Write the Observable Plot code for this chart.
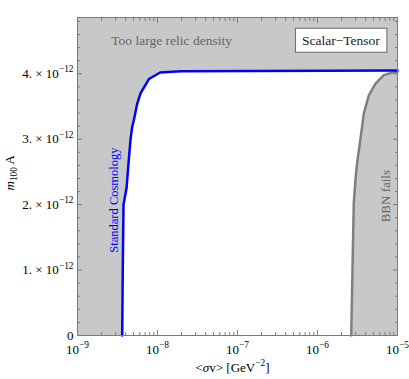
<!DOCTYPE html>
<html>
<head>
<meta charset="utf-8">
<script src="https://cdn.jsdelivr.net/npm/d3@7"></script>
<script src="https://cdn.jsdelivr.net/npm/@observablehq/plot@0.6"></script>
<style>
  html, body { margin: 0; padding: 0; background: white; }
  svg { display: block; }
</style>
</head>
<body>
<script>
// ---- data ----
const xMajor = [1e-9, 1e-8, 1e-7, 1e-6, 1e-5];
const xMinorMult = [2, 3, 4, 5, 6, 7, 8, 9];
const yMajor = [0, 1e-12, 2e-12, 3e-12, 4e-12];
const yMinor = [0.2e-12, 0.4e-12, 0.6e-12, 0.8e-12, 1.2e-12, 1.4e-12, 1.6e-12, 1.8e-12,
                2.2e-12, 2.4e-12, 2.6e-12, 2.8e-12, 3.2e-12, 3.4e-12, 3.6e-12, 3.8e-12,
                4.2e-12, 4.4e-12, 4.6e-12, 4.8e-12];
const xDomain = [1e-9, 1e-5];
const yDomain = [0, 4.86e-12];

// Standard Cosmology curve
const stdSigmaV = [3.62e-9, 3.68e-9, 3.76e-9, 4.1e-9, 4.3e-9, 4.6e-9, 4.83e-9, 5.06e-9, 5.57e-9, 6.13e-9, 7.8e-9, 1.08e-8, 1.94e-8, 1e-5];
const stdMass   = [0, 1.0e-12, 2.0e-12, 2.25e-12, 2.57e-12, 3.0e-12, 3.19e-12, 3.29e-12, 3.54e-12, 3.70e-12, 3.92e-12, 4.02e-12, 4.04e-12, 4.05e-12];

// BBN bound curve
const bbnSigmaV = [2.64e-6, 2.84e-6, 2.99e-6, 3.16e-6, 3.38e-6, 3.79e-6, 4.38e-6, 5.31e-6, 6.74e-6, 8.59e-6, 1e-5];
const bbnMass   = [0, 2.02e-12, 2.4e-12, 2.68e-12, 2.93e-12, 3.39e-12, 3.67e-12, 3.85e-12, 3.98e-12, 4.02e-12, 4.03e-12];

// annotations (text + anchor in data space)
const annoText = ["Too large relic density", "Scalar−Tensor", "Standard Cosmology", "BBN fails"];
const annoX = [1.5e-8, 1.96e-6, 2.84e-9, 7.2e-6];
const annoY = [4.51e-12, 4.51e-12, 2.07e-12, 2.13e-12];

const xLabel = "<*{σ}v> [GeV^{−2}]";
const yLabel = "*{m}_{100} A";

// ---- build ----
const std = stdSigmaV.map((x, i) => ({x, y: stdMass[i]}));
const bbn = bbnSigmaV.map((x, i) => ({x, y: bbnMass[i]}));
const anno = annoText.map((t, i) => ({t, x: annoX[i], y: annoY[i]}));
const xMinor = xMajor.slice(0, -1).flatMap(d => xMinorMult.map(k => k * d));

const expo = d => Math.round(Math.log10(d));
const fmtX = d => `10^{−${-expo(d)}}`;
const fmtY = d => d === 0 ? "0" : `${Math.round(d * 1e12)}. × 10^{−12}`;

const GRAY = "#c8c8c8";
const FRAME = "#7a7a7a";
const serif = "'Liberation Serif', 'Times New Roman', serif";
const blank = () => "";

const tickAxes = [];
for (const [ticks, size] of [[xMajor, 5], [xMinor, 3]]) {
  tickAxes.push(Plot.axisX({anchor: "bottom", ticks, tickSize: -size, tickFormat: blank, stroke: FRAME}));
  tickAxes.push(Plot.axisX({anchor: "top", ticks, tickSize: -size, tickFormat: blank, stroke: FRAME}));
}
for (const [ticks, size] of [[yMajor, 5], [yMinor, 3]]) {
  tickAxes.push(Plot.axisY({anchor: "left", ticks, tickSize: -size, tickFormat: blank, stroke: FRAME}));
  tickAxes.push(Plot.axisY({anchor: "right", ticks, tickSize: -size, tickFormat: blank, stroke: FRAME}));
}

const chart = Plot.plot({
  width: 409,
  height: 379,
  marginLeft: 77,
  marginRight: 12,
  marginTop: 17,
  marginBottom: 44,
  x: {type: "log", domain: xDomain, label: null},
  y: {domain: yDomain, label: null},
  style: {fontFamily: serif, fontSize: "13px", background: "white", color: "black"},
  marks: [
    Plot.frame({fill: GRAY}),
    Plot.areaY(std, {x: "x", y1: 0, y2: "y", fill: "white"}),
    Plot.areaY(bbn, {x: "x", y1: 0, y2: "y", fill: GRAY}),
    Plot.text(anno.slice(0, 2), {x: "x", y: "y", text: "t", fill: (d) => d.t === "Scalar−Tensor" ? "#222" : "#666", fontSize: 13.5, fontFamily: serif}),
    Plot.text(anno.slice(2, 3), {x: "x", y: "y", text: "t", fill: "#0000ff", rotate: -90, fontSize: 12.5, fontFamily: serif}),
    Plot.text(anno.slice(3), {x: "x", y: "y", text: "t", fill: "#666", rotate: -90, fontSize: 13, fontFamily: serif}),
    Plot.line(bbn, {x: "x", y: "y", stroke: "#808080", strokeWidth: 2.5}),
    Plot.line(std, {x: "x", y: "y", stroke: "#0000ff", strokeWidth: 2.5}),
    ...tickAxes,
    Plot.frame({stroke: FRAME}),
    Plot.axisX({anchor: "bottom", ticks: xMajor, tickSize: 0, tickPadding: 9, tickFormat: fmtX, fontSize: 13, fontFamily: serif, fill: "black"}),
    Plot.axisY({anchor: "left", ticks: yMajor, tickSize: 0, tickPadding: 4, tickFormat: fmtY, fontSize: 13, fontFamily: serif, fill: "black"}),
    Plot.text([xLabel], {frameAnchor: "bottom", dx: -5, dy: 36, text: d => d, fontSize: 13, fontFamily: serif, fill: "black"}),
    Plot.text([yLabel], {frameAnchor: "left", dx: -68, dy: 14, rotate: -90, text: d => d, fontSize: 13, fontFamily: serif, fill: "black"})
  ]
});
document.body.appendChild(chart);

// ---- rich text: ^{sup}, _{sub}, *{italic} ----
const NS = "http://www.w3.org/2000/svg";
for (const el of chart.querySelectorAll("text")) {
  const s = el.textContent;
  if (!/[\^_*]\{/.test(s)) continue;
  const parts = [];
  const re = /([\^_*])\{([^}]*)\}|([^\^_*]+|[\^_*])/g;
  let m;
  while ((m = re.exec(s))) {
    if (m[1]) parts.push({kind: m[1], txt: m[2]});
    else parts.push({kind: "", txt: m[3]});
  }
  while (el.firstChild) el.removeChild(el.firstChild);
  let shift = 0;
  for (const p of parts) {
    const ts = document.createElementNS(NS, "tspan");
    ts.textContent = p.txt;
    let target = 0;
    if (p.kind === "^") { target = -0.42; ts.setAttribute("font-size", "0.72em"); }
    else if (p.kind === "_") { target = 0.25; ts.setAttribute("font-size", "0.72em"); }
    else if (p.kind === "*") { ts.setAttribute("font-style", "italic"); }
    const fs = parseFloat(getComputedStyle(el).fontSize) || 13;
    const d = (target - shift) * fs;
    if (d !== 0) ts.setAttribute("dy", d.toFixed(2));
    shift = target;
    el.appendChild(ts);
  }
}

// ---- box around the "Scalar−Tensor" legend ----
for (const el of chart.querySelectorAll("text")) {
  if (el.textContent !== "Scalar−Tensor") continue;
  const b = el.getBBox();
  const r = document.createElementNS(NS, "rect");
  r.setAttribute("x", b.x - 6.5);
  r.setAttribute("y", b.y - 4.5);
  r.setAttribute("width", b.width + 13);
  r.setAttribute("height", b.height + 9);
  r.setAttribute("fill", "white");
  r.setAttribute("stroke", "#6a6a6a");
  r.setAttribute("stroke-width", "1");
  const tr = el.getAttribute("transform");
  if (tr) r.setAttribute("transform", tr);
  el.parentNode.insertBefore(r, el);
}
</script>
</body>
</html>
